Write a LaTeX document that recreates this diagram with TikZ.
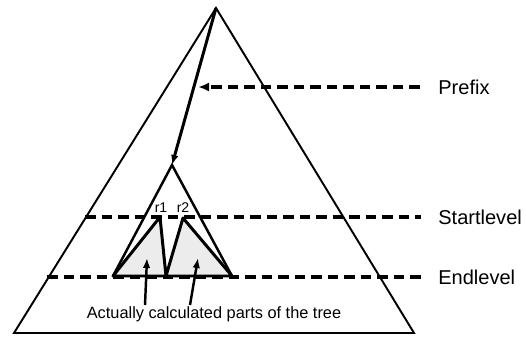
\documentclass[tikz,border=0pt]{standalone}
\usepackage{fontspec}
\setmainfont{Liberation Sans}
\usetikzlibrary{arrows.meta}
\tikzset{
  levelline/.style={line width=2.2pt, dash pattern=on 6pt off 3.4pt},
  levellabel/.style={anchor=west, inner sep=0pt, font=\fontsize{11.4}{13}\selectfont},
  rootlabel/.style={anchor=base, inner sep=0pt, font=\fontsize{8}{9}\selectfont},
  smallhead/.style={-{Latex[length=0.2cm, width=0.15cm]}}
}

\begin{document}
\begin{tikzpicture}[x=0.02cm, y=-0.02cm]
  \useasboundingbox (0,0) rectangle (526,337);
  % whole tree
  \coordinate (top) at (216,8);
  \coordinate (bl) at (14,333);
  \coordinate (br) at (414,333);
  \draw[line width=1.1pt] (top) -- (bl) -- (br) -- cycle;
  % subtree below the prefix
  \coordinate (sub) at (172,165);
  \coordinate (subl) at (113,276);
  \coordinate (subr) at (232,276);
  \coordinate (r1) at (160,217);
  \coordinate (r2) at (183,218);
  \coordinate (mid) at (166,276);
  \fill[gray!15] (subl) -- (r1) -- (mid) -- (r2) -- (subr) -- cycle;
  \draw[line width=1.4pt] (subl) -- (sub) -- (subr);
  \draw[line width=1.7pt, line join=round] (subl) -- (r1) -- (mid) -- (r2) -- (subr) -- cycle;
  \node[rootlabel] (r1lbl) at (161,213) {r1};
  \node[rootlabel] (r2lbl) at (183,213) {r2};
  \draw[line width=1.7pt, -{Latex[length=0.2cm, width=0.15cm]}] (top) -- (sub);
  % levels
  \coordinate (pfx) at (198,87);
  \node[levellabel] (prefix) at (438,87) {Prefix};
  \draw[levelline, -{Latex[length=0.22cm, width=0.18cm]}]
    ([xshift=-0.36cm]prefix.west) -- (pfx);
  \foreach \name/\x/\y/\txt in {start/85/217/Startlevel, end/47/277/Endlevel}{
    \coordinate (\name) at (\x,\y);
    \node[levellabel] (\name lbl) at (438,\y) {\txt};
    \draw[levelline] (\name) -- ([xshift=-0.34cm]\name lbl.west);
  }
  % note
  \node[anchor=base, inner sep=0pt, font=\fontsize{9.3}{11}\selectfont]
    (note) at (214,318) {Actually calculated parts of the tree};
  \coordinate (taill) at (145,305);
  \coordinate (tipl) at (147,258);
  \coordinate (tailr) at (190,305);
  \coordinate (tipr) at (198,258);
  \draw[line width=1.4pt, smallhead] (taill) -- (tipl);
  \draw[line width=1.4pt, smallhead] (tailr) -- (tipr);
\end{tikzpicture}
\end{document}
